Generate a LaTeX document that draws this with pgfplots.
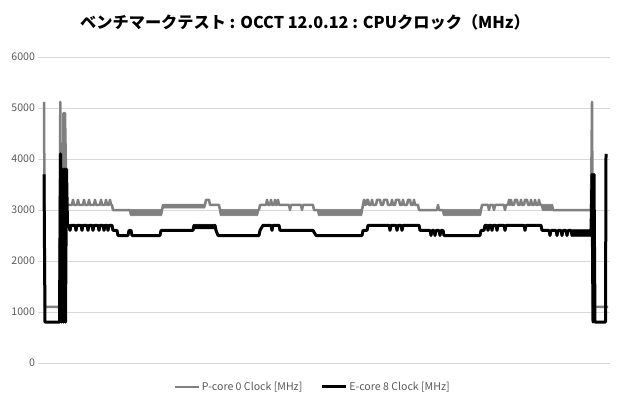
\documentclass[border=0pt]{standalone}
\usepackage{fontspec}
\setmainfont{Noto Sans CJK JP}
\usepackage{pgfplots}
\pgfplotsset{compat=1.18}
\definecolor{pcol}{HTML}{808080}
\definecolor{ecol}{HTML}{000000}
\definecolor{gridc}{HTML}{D9D9D9}
\definecolor{tickc}{HTML}{595959}
\begin{document}
\begin{tikzpicture}
\path[use as bounding box] (0pt,0pt) rectangle (620pt,410pt);
\node[font=\bfseries\fontsize{16.2}{19}\selectfont, text=black] at (305pt,388pt) {ベンチマークテスト : OCCT 12.0.12 : CPUクロック（MHz）};
\begin{axis}[
  at={(38pt,47pt)}, anchor=south west,
  width=572pt, height=306pt, scale only axis,
  xmin=38, xmax=610, ymin=0, ymax=6000,
  ytick={0,1000,2000,3000,4000,5000,6000},
  xtick=\empty,
  ymajorgrids, grid style={draw=gridc, line width=0.75pt},
  axis line style={draw=none},
  major tick length=0pt,
  tick style={draw=none},
  tick label style={font=\fontsize{10.6}{12}\selectfont, text=tickc},
  yticklabel style={xshift=0.5pt},
  /pgf/number format/assume math mode=true,
  /pgf/number format/1000 sep={},
  clip=false,
  legend style={at={(0.48,-0.078)}, anchor=center, draw=none, fill=none,
    font=\fontsize{10.6}{12}\selectfont, text=tickc,
    /tikz/every even column/.append style={column sep=16pt}},
  legend columns=2,
  legend cell align=left,
  legend image code/.code={\draw[#1] (0pt,0pt) -- (24pt,0pt);},
]
\addplot[pcol, line width=2.5pt, line join=round] coordinates {
(44,5120)(45,1100)(59.5,1100)(60.3,5120)(61.3,1100)(62.5,1100)(63.5,4900)(65,4900)(66.5,3100)
(68,3100)(72,3100)(73,3200)(74,3100)(77,3100)(78,3200)(79,3100)(83,3100)(84,3200)(85,3100)(88,3100)(89,3200)(90,3100)(94,3100)(95,3200)(96,3100)(100,3100)(101,3200)(102,3100)(105,3100)(106,3200)(107,3100)(109,3100)(110,3200)(111,3100)(112,3100)(113,3000)(130,3000)
(131,2900)(132,3000)(133,2900)(134,3000)(135,2900)(136,3000)(137,2900)(138,3000)(139,2900)(140,3000)(141,2900)(142,3000)(143,2900)(144,3000)(145,2900)(146,3000)(147,2900)(148,3000)(149,2900)(150,3000)(151,2900)(152,3000)(153,2900)(154,3000)(155,2900)(156,3000)(157,2900)(158,3000)(159,2900)(160,3000)(161,2900)(162,3000)
(163,3100)(164,3050)(165,3100)(166,3050)(167,3100)(168,3050)(169,3100)(170,3050)(171,3100)(172,3050)(173,3100)(174,3050)(175,3100)(176,3050)(177,3100)(178,3050)(179,3100)(180,3050)(181,3100)(182,3050)(183,3100)(184,3050)(185,3100)(186,3050)(187,3100)(188,3050)(189,3100)(190,3050)(191,3100)(192,3050)(193,3100)(194,3050)(195,3100)(196,3050)(197,3100)(198,3050)(199,3100)(200,3050)(201,3100)(202,3050)(203,3100)(204,3050)(205,3100)
(206,3200)(209,3200)(210,3100)(219,3100)
(220,3000)(221,2900)(222,3000)(223,2900)(224,3000)(225,2900)(226,3000)(227,2900)(228,3000)(229,2900)(230,3000)(231,2900)(232,3000)(233,2900)(234,3000)(235,2900)(236,3000)(237,2900)(238,3000)(239,2900)(240,3000)(241,2900)(242,3000)(243,2900)(244,3000)(245,2900)(246,3000)(247,2900)(248,3000)(249,2900)(250,3000)(251,2900)(252,3000)(253,2900)(254,3000)(255,2900)(256,3000)(257,2900)(258,3000)(259,3000)
(260,3100)(266,3100)(267,3200)(268,3100)(270,3100)(271,3200)(272,3100)(274,3100)(275,3200)(276,3100)(277,3100)(278,3200)(279,3100)(289,3100)(290,3000)(291,3100)(301,3100)(302,3000)(303,3100)(313,3100)(314,3000)(318,3000)
(319,2900)(320,3000)(321,2900)(322,3000)(323,2900)(324,3000)(325,2900)(326,3000)(327,2900)(328,3000)(329,2900)(330,3000)(331,2900)(332,3000)(333,2900)(334,3000)(335,2900)(336,3000)(337,2900)(338,3000)(339,2900)(340,3000)(341,2900)(342,3000)(343,2900)(344,3000)(345,2900)(346,3000)(347,2900)(348,3000)(349,2900)(350,3000)(351,2900)(352,3000)(353,2900)(354,3000)(355,2900)(356,3000)(357,2900)(358,3000)(359,2900)(360,3000)(361,2900)(362,3000)
(363,3100)(364,3200)(365,3100)(366,3100)(367,3200)(368,3200)(369,3100)(371,3100)(372,3200)(373,3100)(376,3100)(377,3200)(380,3200)(381,3100)(383,3100)(384,3200)(387,3200)(388,3100)(391,3100)(392,3200)(393,3100)(395,3100)(396,3200)(399,3200)(400,3100)(402,3100)(403,3200)(404,3100)(407,3100)(408,3200)(410,3200)(411,3100)(413,3100)(414,3200)(415,3100)(418,3100)
(419,3000)(437,3000)(438,3100)(439,3000)(443,3000)
(444,2900)(445,3000)(446,2900)(447,3000)(448,2900)(449,3000)(450,2900)(451,3000)(452,2900)(453,3000)(454,2900)(455,3000)(456,2900)(457,3000)(458,2900)(459,3000)(460,2900)(461,3000)(462,2900)(463,3000)(464,2900)(465,3000)(466,2900)(467,3000)(468,2900)(469,3000)(470,2900)(471,3000)(472,2900)(473,3000)(474,2900)(475,3000)(476,2900)(477,3000)(478,2900)(479,3000)(480,2900)(481,3000)
(482,3100)(488,3100)(489,3000)(490,3100)(493,3100)(494,3000)(495,3100)(504,3100)(505,3000)(506,3100)(508,3100)
(509,3200)(510,3100)(511,3200)(512,3100)(514,3100)(515,3200)(517,3200)(518,3100)(520,3100)(521,3200)(522,3100)(524,3100)(525,3200)(527,3200)(528,3100)(530,3100)(531,3200)(532,3100)(534,3100)(535,3200)(536,3100)(538,3100)(539,3200)(540,3100)(542,3100)
(543,3000)(544,3100)(545,3000)(546,3100)(547,3000)(548,3100)(549,3000)(550,3100)(551,3000)(552,3100)(553,3000)
(591,3000)(592,5120)(593,1100)(608,1100)
};
\addlegendentry{P-core 0 Clock [MHz]}
\addplot[ecol, line width=3pt, line join=round] coordinates {
(44,3700)(45,800)(59.5,800)(60.5,4100)(61.5,800)(62.5,3800)(63.5,800)(64.5,3800)(65.5,800)(66.5,3800)(67.5,2700)
(69,2700)(70,2600)(71,2700)(75,2700)(76,2600)(77,2700)(81,2700)(82,2600)(83,2700)(87,2700)(88,2600)(89,2700)(92,2700)(93,2600)(94,2700)(98,2700)(99,2600)(100,2700)(103,2700)(104,2600)(105,2700)(107,2700)(108,2600)(109,2700)(112,2700)
(113,2600)(117,2600)(118,2500)(128,2500)(129,2600)(131,2600)(132,2500)(160,2500)(161,2600)(193,2600)
(194,2700)(195,2650)(196,2700)(197,2650)(198,2700)(199,2650)(200,2700)(201,2650)(202,2700)(203,2650)(204,2700)(205,2650)(206,2700)(207,2650)(208,2700)(209,2650)(210,2700)(211,2650)(212,2700)(213,2650)(214,2700)(215,2700)
(216,2600)(218,2500)(259,2500)(260,2600)(263,2700)(271,2700)(272,2600)(273,2700)(279,2700)(280,2600)(313,2600)(316,2500)(362,2500)(363,2600)(367,2600)(368,2700)(389,2700)(390,2600)(391,2700)(396,2700)(397,2600)(398,2700)(401,2700)(402,2600)(403,2700)(419,2700)(420,2600)(430,2600)(431,2500)(432,2600)(434,2600)(435,2500)(436,2600)(439,2600)(440,2500)(441,2600)(443,2600)(444,2500)(480,2500)(481,2600)(484,2600)(485,2700)(487,2700)(488,2600)(489,2700)(491,2700)(492,2600)(493,2700)(496,2700)(497,2600)(498,2700)(504,2700)(505,2600)(506,2700)(524,2700)(525,2600)(526,2700)(541,2700)(542,2600)(549,2600)(550,2500)(551,2600)(556,2600)(557,2500)(558,2600)(561,2600)(562,2500)(563,2600)(566,2600)(567,2500)(568,2600)(571,2600)
(572,2500)(573,2600)(574,2500)(575,2600)(576,2500)(577,2600)(578,2500)(579,2600)(580,2500)(581,2600)(582,2500)(583,2600)(584,2500)(585,2600)(586,2500)(587,2600)(588,2500)(589,2600)(590,2500)(591,2550)
(592,3700)(593,800)(594,3700)(595,800)(605.5,800)(606,4100)
};
\addlegendentry{E-core 8 Clock [MHz]}
\end{axis}
\end{tikzpicture}
\end{document}
